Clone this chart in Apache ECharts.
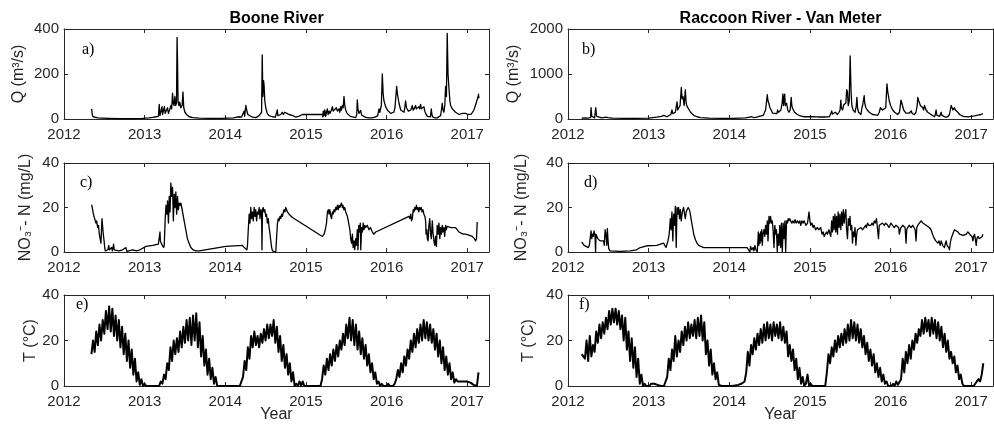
<!DOCTYPE html>
<html>
<head>
<meta charset="utf-8">
<script src="https://cdn.jsdelivr.net/npm/echarts@6/dist/echarts.min.js"></script>
<style>
html, body { margin: 0; padding: 0; background: #fff; }
#chart { width: 994px; height: 429px; }
</style>
</head>
<body>
<div id="chart"></div>
<script>
// Year tick labels shared by all panels
const yearTicks = [2012, 2013, 2014, 2015, 2016, 2017];

// Boone River discharge, m3/s  [decimal year, Q]
const qBoone = [
[2012.343,45],[2012.35,20],[2012.36,10],[2012.38,6],[2012.42,5],[2012.47,4],[2012.479,9],[2012.49,4],[2012.55,3],[2012.7,2],[2012.85,2],[2012.974,3],[2013.05,5],[2013.1,7],[2013.14,10],[2013.17,12],[2013.181,65],[2013.19,15],[2013.205,12],[2013.215,55],[2013.222,20],[2013.235,18],[2013.245,55],[2013.255,25],[2013.27,30],[2013.284,50],[2013.295,25],[2013.31,40],[2013.325,60],[2013.335,45],[2013.346,115],[2013.355,70],[2013.365,60],[2013.375,100],[2013.385,60],[2013.395,70],[2013.402,363],[2013.408,250],[2013.414,80],[2013.425,60],[2013.435,75],[2013.449,50],[2013.465,60],[2013.475,120],[2013.485,50],[2013.5,30],[2013.52,20],[2013.552,10],[2013.6,6],[2013.676,4],[2013.8,3],[2013.95,3],[2014.1,5],[2014.172,10],[2014.2,8],[2014.22,15],[2014.234,35],[2014.24,12],[2014.255,60],[2014.265,40],[2014.28,20],[2014.296,12],[2014.337,8],[2014.38,6],[2014.42,15],[2014.45,30],[2014.458,285],[2014.466,100],[2014.475,170],[2014.481,150],[2014.49,80],[2014.502,50],[2014.52,25],[2014.543,15],[2014.585,10],[2014.62,8],[2014.645,40],[2014.652,15],[2014.67,10],[2014.688,20],[2014.705,30],[2014.72,20],[2014.735,30],[2014.75,35],[2014.765,25],[2014.79,20],[2014.812,25],[2014.84,15],[2014.874,8],[2014.91,12],[2014.956,20],[2015.204,20],[2015.21,10],[2015.215,35],[2015.225,15],[2015.235,40],[2015.245,12],[2015.255,30],[2015.266,45],[2015.275,20],[2015.287,35],[2015.3,25],[2015.315,40],[2015.328,55],[2015.338,35],[2015.348,40],[2015.36,30],[2015.377,50],[2015.39,35],[2015.41,45],[2015.42,30],[2015.431,55],[2015.44,40],[2015.452,60],[2015.462,50],[2015.472,100],[2015.482,60],[2015.493,40],[2015.51,25],[2015.526,18],[2015.55,12],[2015.576,9],[2015.6,7],[2015.617,6],[2015.63,20],[2015.637,85],[2015.645,45],[2015.658,25],[2015.67,30],[2015.679,38],[2015.69,18],[2015.699,12],[2015.741,7],[2015.78,5],[2015.823,5],[2015.865,9],[2015.89,15],[2015.906,45],[2015.916,30],[2015.935,60],[2015.947,200],[2015.958,110],[2015.968,80],[2015.988,55],[2016.01,40],[2016.03,32],[2016.05,25],[2016.071,20],[2016.09,30],[2016.104,50],[2016.125,145],[2016.135,110],[2016.154,70],[2016.175,40],[2016.195,35],[2016.216,30],[2016.226,50],[2016.236,80],[2016.247,50],[2016.257,45],[2016.27,35],[2016.286,30],[2016.3,40],[2016.319,60],[2016.33,40],[2016.339,35],[2016.35,50],[2016.36,60],[2016.37,45],[2016.381,40],[2016.39,50],[2016.401,55],[2016.41,45],[2016.422,65],[2016.432,45],[2016.443,40],[2016.453,50],[2016.463,55],[2016.474,35],[2016.484,25],[2016.505,12],[2016.525,8],[2016.545,10],[2016.554,45],[2016.562,20],[2016.575,8],[2016.6,5],[2016.628,5],[2016.65,8],[2016.67,15],[2016.68,40],[2016.69,70],[2016.7,40],[2016.711,30],[2016.722,60],[2016.732,145],[2016.742,100],[2016.752,380],[2016.762,200],[2016.773,140],[2016.785,80],[2016.794,60],[2016.815,45],[2016.835,40],[2016.855,30],[2016.876,25],[2016.9,20],[2016.917,20],[2016.94,25],[2016.959,25],[2016.98,25],[2017.0,25],[2017.01,20],[2017.029,15],[2017.05,22],[2017.083,40],[2017.11,70],[2017.135,100],[2017.14,110],[2017.145,92]
];

// Raccoon River at Van Meter discharge, m3/s
const qRaccoon = [
[2012.17,20],[2012.2,25],[2012.25,20],[2012.28,30],[2012.286,250],[2012.295,60],[2012.31,30],[2012.33,25],[2012.344,250],[2012.355,60],[2012.369,30],[2012.42,25],[2012.47,40],[2012.481,60],[2012.495,30],[2012.55,20],[2012.7,15],[2012.85,15],[2013.0,20],[2013.1,40],[2013.16,60],[2013.186,80],[2013.2,60],[2013.227,50],[2013.25,60],[2013.275,100],[2013.289,200],[2013.3,120],[2013.32,150],[2013.331,150],[2013.352,380],[2013.36,200],[2013.372,200],[2013.39,300],[2013.405,700],[2013.415,450],[2013.426,500],[2013.44,300],[2013.455,650],[2013.465,350],[2013.476,280],[2013.49,300],[2013.497,250],[2013.52,150],[2013.559,80],[2013.6,50],[2013.642,30],[2013.75,20],[2013.9,15],[2014.05,15],[2014.2,25],[2014.25,40],[2014.264,80],[2014.275,50],[2014.29,70],[2014.305,30],[2014.34,40],[2014.37,60],[2014.388,50],[2014.42,80],[2014.45,200],[2014.471,540],[2014.48,400],[2014.49,350],[2014.504,250],[2014.52,200],[2014.537,130],[2014.56,100],[2014.59,120],[2014.599,200],[2014.61,150],[2014.625,120],[2014.64,200],[2014.655,350],[2014.665,560],[2014.673,300],[2014.68,450],[2014.687,550],[2014.695,300],[2014.711,350],[2014.725,200],[2014.74,150],[2014.755,200],[2014.768,480],[2014.775,300],[2014.782,250],[2014.795,200],[2014.81,150],[2014.844,100],[2014.88,70],[2014.927,50],[2015.0,50],[2015.1,45],[2015.2,45],[2015.24,50],[2015.259,120],[2015.27,180],[2015.28,110],[2015.3,90],[2015.315,150],[2015.33,120],[2015.342,100],[2015.36,150],[2015.374,200],[2015.383,420],[2015.39,250],[2015.404,200],[2015.42,320],[2015.435,300],[2015.445,350],[2015.456,650],[2015.466,600],[2015.475,300],[2015.487,400],[2015.499,1400],[2015.51,600],[2015.52,300],[2015.535,200],[2015.549,180],[2015.56,150],[2015.575,300],[2015.582,480],[2015.59,250],[2015.603,150],[2015.62,120],[2015.632,100],[2015.645,250],[2015.653,300],[2015.662,400],[2015.673,520],[2015.68,350],[2015.694,250],[2015.71,200],[2015.736,150],[2015.76,120],[2015.777,100],[2015.81,90],[2015.839,80],[2015.86,150],[2015.874,250],[2015.881,250],[2015.9,200],[2015.922,180],[2015.94,250],[2015.955,780],[2015.965,600],[2015.984,400],[2016.0,300],[2016.026,200],[2016.05,150],[2016.088,100],[2016.11,150],[2016.129,420],[2016.14,350],[2016.162,200],[2016.19,130],[2016.212,100],[2016.235,130],[2016.254,180],[2016.27,120],[2016.295,100],[2016.315,150],[2016.33,300],[2016.337,480],[2016.35,400],[2016.37,300],[2016.385,280],[2016.399,250],[2016.41,200],[2016.42,300],[2016.44,200],[2016.461,150],[2016.48,120],[2016.502,100],[2016.52,70],[2016.544,50],[2016.555,100],[2016.564,200],[2016.575,80],[2016.585,50],[2016.61,60],[2016.627,150],[2016.637,80],[2016.647,50],[2016.68,40],[2016.709,50],[2016.73,100],[2016.751,300],[2016.762,250],[2016.772,200],[2016.782,220],[2016.793,250],[2016.803,200],[2016.813,200],[2016.834,150],[2016.855,100],[2016.876,80],[2016.9,60],[2016.917,50],[2016.96,45],[2017.0,60],[2017.04,70],[2017.083,85],[2017.12,100],[2017.145,120]
];

// Boone River nitrate-N, mg/L
const nBoone = [
[2012.343,21.3],[2012.355,19],[2012.365,17],[2012.376,15.5],[2012.385,16],[2012.396,13],[2012.405,14],[2012.417,11],[2012.428,12],[2012.438,8],[2012.448,6],[2012.458,4],[2012.465,10],[2012.471,15],[2012.478,12],[2012.487,8],[2012.497,5],[2012.505,2],[2012.512,0.5],[2012.528,0.2],[2012.545,1],[2012.555,3],[2012.562,1],[2012.575,0.3],[2012.59,2],[2012.6,0.5],[2012.615,3.5],[2012.623,1],[2012.644,0.2],[2012.68,0.5],[2012.727,1],[2012.75,0.5],[2012.768,2],[2012.78,0.3],[2012.8,0.5],[2012.851,1],[2012.9,0.5],[2012.933,0.8],[2013.016,2.5],[2013.1,3],[2013.17,3.5],[2013.181,3.5],[2013.19,9],[2013.195,5],[2013.205,4],[2013.22,3],[2013.235,2],[2013.243,3],[2013.255,15],[2013.265,21],[2013.275,17],[2013.284,23],[2013.295,13],[2013.305,25],[2013.315,18],[2013.325,31],[2013.335,25],[2013.346,29],[2013.356,14],[2013.367,26],[2013.377,20],[2013.387,27],[2013.397,17],[2013.408,25],[2013.418,19],[2013.429,22],[2013.44,21],[2013.449,22],[2013.46,20],[2013.47,18],[2013.49,14],[2013.51,10],[2013.53,6],[2013.55,4],[2013.573,2],[2013.6,1],[2013.635,0.5],[2013.676,0.5],[2014.007,2.5],[2014.213,3],[2014.235,2],[2014.255,1.5],[2014.268,1],[2014.275,3],[2014.285,10],[2014.296,17],[2014.306,13],[2014.316,20],[2014.326,15],[2014.337,18],[2014.347,14],[2014.358,20],[2014.368,16],[2014.378,19],[2014.388,14],[2014.399,18],[2014.41,17],[2014.42,20],[2014.43,15],[2014.44,19],[2014.45,18],[2014.455,1],[2014.461,19],[2014.47,20],[2014.481,18],[2014.49,19],[2014.502,16],[2014.51,17],[2014.523,13],[2014.533,15],[2014.543,11],[2014.555,8],[2014.564,5],[2014.575,2],[2014.585,0.5],[2014.6,0],[2014.626,0],[2014.64,0.5],[2014.647,13],[2014.657,15],[2014.667,14],[2014.678,16],[2014.688,15],[2014.698,17],[2014.709,16],[2014.72,18],[2014.729,19],[2014.74,18],[2014.75,20],[2014.76,19],[2014.77,18],[2014.78,18],[2014.791,17],[2014.8,17],[2014.832,15.5],[2015.204,7],[2015.215,6.5],[2015.225,8],[2015.24,10],[2015.255,13],[2015.266,18],[2015.277,19],[2015.287,17],[2015.297,19],[2015.308,16],[2015.318,15],[2015.328,18],[2015.338,17],[2015.348,19],[2015.359,18],[2015.369,20],[2015.38,19],[2015.39,21],[2015.4,19],[2015.41,21],[2015.42,20],[2015.43,21],[2015.44,22],[2015.452,20],[2015.46,21],[2015.47,19],[2015.48,20],[2015.493,18],[2015.505,17],[2015.514,16],[2015.525,14],[2015.535,12],[2015.545,10],[2015.555,6],[2015.565,4],[2015.576,8],[2015.585,2],[2015.596,5],[2015.605,1],[2015.617,6],[2015.627,3],[2015.637,10],[2015.645,1],[2015.655,12],[2015.665,9],[2015.674,13],[2015.68,1],[2015.69,11],[2015.7,9],[2015.71,13],[2015.72,10],[2015.73,12],[2015.741,11],[2015.76,12],[2015.782,10],[2015.8,11],[2015.823,9],[2015.84,8],[2015.865,9],[2016.278,16],[2016.29,15],[2016.3,17],[2016.31,14],[2016.319,15],[2016.33,19],[2016.339,18],[2016.35,20],[2016.36,19],[2016.37,21],[2016.381,19],[2016.39,20],[2016.4,18],[2016.41,20],[2016.422,19],[2016.43,20],[2016.44,18],[2016.45,19],[2016.463,17],[2016.475,16],[2016.484,14],[2016.49,8],[2016.5,10],[2016.505,6],[2016.515,5],[2016.525,12],[2016.535,15],[2016.546,8],[2016.555,6],[2016.567,14],[2016.575,9],[2016.587,5],[2016.598,3],[2016.608,7],[2016.618,2.5],[2016.628,12],[2016.64,8],[2016.649,13],[2016.66,6],[2016.67,11],[2016.68,8],[2016.69,12],[2016.7,9],[2016.711,11],[2016.72,7],[2016.732,12],[2016.74,10],[2016.752,11.5],[2016.773,11.5],[2016.8,11],[2016.855,11],[2016.897,9],[2016.95,8],[2016.979,8],[2017.03,7.5],[2017.062,7],[2017.09,6],[2017.103,5],[2017.115,6],[2017.124,13.5]
];

// Raccoon River nitrate-N, mg/L
const nRaccoon = [
[2012.17,4.5],[2012.19,4],[2012.2,3],[2012.211,3.5],[2012.225,2.5],[2012.24,3],[2012.253,2],[2012.265,3],[2012.275,3],[2012.286,9.5],[2012.295,6],[2012.303,8],[2012.313,7],[2012.323,9.5],[2012.335,7],[2012.342,0],[2012.347,8],[2012.357,7.5],[2012.37,6],[2012.385,6.5],[2012.398,5],[2012.42,4.5],[2012.44,5],[2012.45,3],[2012.46,10],[2012.47,8],[2012.481,3],[2012.488,10.5],[2012.495,6],[2012.505,1.5],[2012.52,0.5],[2012.543,0.3],[2012.65,0.3],[2012.771,0.5],[2012.85,1],[2012.896,2],[2012.978,2.8],[2013.1,3],[2013.186,4],[2013.2,3],[2013.215,2],[2013.227,2.5],[2013.24,5],[2013.255,8],[2013.269,15],[2013.279,10],[2013.289,18],[2013.3,5],[2013.31,17],[2013.32,12],[2013.331,20.5],[2013.342,2],[2013.352,20],[2013.362,17],[2013.372,20],[2013.383,15],[2013.393,19],[2013.404,14],[2013.414,17],[2013.424,19],[2013.434,20],[2013.445,17],[2013.455,15],[2013.466,18],[2013.476,19],[2013.49,20],[2013.505,19],[2013.517,17],[2013.53,14],[2013.545,11],[2013.559,8],[2013.58,5.5],[2013.6,4],[2013.62,3],[2013.642,2.5],[2013.683,2],[2013.75,2],[2013.808,2],[2014.015,2],[2014.15,2],[2014.222,2],[2014.24,1.5],[2014.255,0],[2014.264,2.5],[2014.28,1],[2014.295,2],[2014.305,0.5],[2014.318,3],[2014.33,1],[2014.347,0],[2014.355,5],[2014.36,9],[2014.367,3],[2014.375,8],[2014.382,4],[2014.388,9],[2014.395,5],[2014.402,10],[2014.409,3],[2014.418,8],[2014.43,10],[2014.44,7],[2014.45,12],[2014.46,8],[2014.471,14],[2014.48,5],[2014.492,16],[2014.5,13],[2014.512,16],[2014.522,13],[2014.533,14],[2014.543,10],[2014.554,2],[2014.565,12],[2014.575,8],[2014.585,10],[2014.595,0],[2014.605,8],[2014.616,3],[2014.626,12],[2014.637,2],[2014.647,13],[2014.658,0],[2014.668,13],[2014.678,6],[2014.69,14],[2014.699,0],[2014.71,14],[2014.72,13],[2014.73,15],[2014.74,14],[2014.75,15],[2014.761,14],[2014.775,13],[2014.79,14],[2014.803,13],[2014.815,14.5],[2014.83,13],[2014.844,14],[2014.86,13],[2014.875,14],[2014.886,12],[2014.9,14],[2014.915,13],[2014.927,14],[2014.95,12],[2014.97,13],[2014.989,18],[2015.0,14],[2015.01,12],[2015.025,13],[2015.04,11],[2015.051,12],[2015.07,10],[2015.093,11],[2015.11,10],[2015.134,11],[2015.15,8],[2015.165,9],[2015.176,7],[2015.19,8],[2015.205,9],[2015.217,8],[2015.235,10],[2015.25,8],[2015.259,7],[2015.269,14],[2015.279,9],[2015.29,16],[2015.3,10],[2015.31,17],[2015.321,9],[2015.33,16],[2015.342,8],[2015.35,18],[2015.362,11],[2015.372,17],[2015.383,10],[2015.393,18],[2015.404,12],[2015.414,19],[2015.425,13],[2015.435,17],[2015.445,19],[2015.455,10],[2015.466,6],[2015.476,15],[2015.487,12],[2015.497,16],[2015.507,10],[2015.518,12],[2015.528,4],[2015.538,9],[2015.549,7],[2015.559,11],[2015.57,3],[2015.58,8],[2015.59,10],[2015.61,10],[2015.632,11],[2015.65,10],[2015.673,11],[2015.69,12],[2015.7,11],[2015.715,13],[2015.73,12],[2015.756,12],[2015.77,13],[2015.785,12],[2015.798,14],[2015.81,13],[2015.825,15],[2015.839,15],[2015.85,6],[2015.86,12],[2015.881,12],[2015.9,13],[2015.922,12],[2015.94,13],[2015.964,12],[2015.98,11],[2016.005,13],[2016.025,12],[2016.046,11],[2016.065,12],[2016.088,12],[2016.1,11],[2016.109,8],[2016.12,10],[2016.129,11],[2016.15,12],[2016.171,12],[2016.18,11],[2016.192,4],[2016.2,10],[2016.212,11],[2016.23,12],[2016.254,11],[2016.275,12],[2016.295,12],[2016.305,10],[2016.316,5],[2016.325,11],[2016.337,12],[2016.357,13],[2016.378,14],[2016.4,13],[2016.42,13],[2016.44,12],[2016.461,12],[2016.48,11],[2016.502,10],[2016.52,8],[2016.544,6],[2016.56,5],[2016.585,4],[2016.6,5],[2016.615,3],[2016.627,5],[2016.645,3],[2016.668,2],[2016.68,4],[2016.689,5],[2016.7,3],[2016.71,3],[2016.72,2],[2016.73,1],[2016.74,4],[2016.751,6],[2016.77,8],[2016.793,10],[2016.81,9.5],[2016.834,9],[2016.855,8],[2016.876,8],[2016.9,7.5],[2016.917,8],[2016.94,8],[2016.959,9],[2016.98,8],[2017.0,8],[2017.01,7],[2017.021,5],[2017.03,7],[2017.041,8],[2017.05,6],[2017.062,3],[2017.07,6],[2017.083,7],[2017.1,6],[2017.124,6],[2017.135,7],[2017.145,8]
];

// Water temperature, deg C, sampled every 0.02 yr from the start year
const tStep = 0.02;
const tBooneStart = 2012.34;
const tBoone = [
14,20,15,24,18,27,20,29,23,33,
25,35,24,34,22,31,20,29,17,26,
14,23,11,20,8,16,5,12,2,6,
0.5,3,0,1,0,0,0,0,0,0,
0,0,0,2,1,5,3,10,7,17,
11,20,14,21,15,24,17,26,19,29,
20,30,18,31,20,32,17,28,13,22,
9,16,5,12,3,8,1,4,0,0,
0,0,0,0,0,0,0,0,0,0,
0,0,0,0,4,11,7,17,12,22,
17,24,18,22,17,23,19,25,20,27,
21,27,22,29,19,26,15,22,11,18,
8,14,5,10,2,6,0,1,0,2,
0,2,0,0,0,0,0,0,0,0,
0,0,0,3,9,5,12,7,14,9,
16,11,18,13,20,16,23,18,27,21,
30,20,29,18,27,16,24,14,21,12,
18,9,14,6,10,3,6,1,2,0,
1,0,0.5,0,1,0,0.5,0,1,3,
7,4,10,6,13,9,16,12,20,15,
23,17,25,19,27,20,29,21,28,20,
27,19,25,16,23,13,20,10,17,7,
13,5,10,3,6,1.5,3,2,2,2,
2,2,2,2,2,1.5,1,0.5,0.3,0,
6
];
const tRaccoonStart = 2012.17;
const tRaccoon = [
14,14,12,20,11,22,13,18,15,24,
19,27,21,28,23,30,25,33,27,34,
28,34,27,33,25,31,20,30,16,24,
11,21,8,17,4,12,1,5,0,1,
0,0.5,0,1,0.5,1,0.5,0.5,0,0,
0,0,0,4,12,7,16,11,22,13,
20,15,24,18,26,20,28,21,27,22,
29,21,30,22,31,20,28,14,20,9,
16,5,10,3,6,0.5,1,0,0,0,
0,0,0,0,0,0.2,0.3,0.5,0.7,1,
1,2,6,15,9,18,14,21,16,23,
18,25,19,27,20,28,21,27,20,28,
22,27,21,28,20,26,19,24,13,18,
11,16,7,12,3,8,1,4,0,1,
5,0,1,0,0,0,0,0,0,0,
0,0,6,14,10,17,13,20,15,22,
17,23,18,25,19,27,20,29,21,28,
20,27,19,25,17,22,14,19,11,16,
9,14,6,10,4,8,2,5,1,2,
0,0,0,1,0,2,0.5,1,3,12,
6,15,10,18,12,20,16,23,19,25,
22,29,23,30,24,29,22,30,23,29,
21,28,20,26,17,23,15,20,12,15,
10,13,6,9,3,5,1,0,0,0,
0,0,0.5,0,1,2,3,2,5,10
];

// Column titles, panel letters and axis names
const columnTitles = ['Boone River', 'Raccoon River - Van Meter'];
const panelLetters = ['a)', 'b)', 'c)', 'd)', 'e)', 'f)'];
const yNames = ['Q (m³/s)', 'NO₃⁻- N (mg/L)', 'T (°C)'];
const yMax = [[400, 2000], [40, 40], [40, 40]];
const yStep = [[200, 1000], [20, 20], [20, 20]];

const toPairs = (start, vals) => vals.map((v, i) => [+(start + i * tStep).toFixed(3), v]);
const seriesData = [
  [qBoone, qRaccoon],
  [nBoone, nRaccoon],
  [toPairs(tBooneStart, tBoone), toPairs(tRaccoonStart, tRaccoon)]
];

const SANS = "'Liberation Sans', Arial, Helvetica, sans-serif";
const SERIF = "'Liberation Serif', 'Times New Roman', serif";
const INK = '#262626';

// Layout of the 3x2 panel grid
const colLeft = [64, 568];
const colWidth = 425;
const rowTop = [29, 163, 295];
const rowHeight = [90, 89, 91];
const nameGaps = [[37, 46], [30, 38], [23, 31]];
const letterPos = [[[82, 50], [582, 50]], [[80, 183], [584, 183]], [[76, 305], [579, 305]]];
const lineWidths = [1.3, 1.3, 2.0];

const grids = [], xAxes = [], yAxes = [], series = [], graphics = [];
let g = 0;
for (let r = 0; r < 3; r++) {
  for (let c = 0; c < 2; c++) {
    grids.push({ left: colLeft[c], top: rowTop[r], width: colWidth, height: rowHeight[r], containLabel: false });
    const xBase = {
      gridIndex: g, type: 'value', min: yearTicks[0], max: 2017.27, interval: 1,
      axisLine: { show: true, onZero: false, lineStyle: { color: INK, width: 1 } },
      axisTick: { show: true, inside: true, length: 4, lineStyle: { color: INK, width: 1 } },
      splitLine: { show: false }
    };
    xAxes.push(Object.assign({}, xBase, {
      position: 'bottom',
      axisLabel: {
        show: true, margin: 8, fontSize: 15, color: INK, fontFamily: SANS, showMaxLabel: false,
        formatter: v => (yearTicks.indexOf(v) >= 0 ? String(v) : '')
      }
    }));
    xAxes.push(Object.assign({}, xBase, { position: 'top', axisLabel: { show: false } }));
    const yBase = {
      gridIndex: g, type: 'value', min: 0, max: yMax[r][c], interval: yStep[r][c],
      axisLine: { show: true, onZero: false, lineStyle: { color: INK, width: 1 } },
      axisTick: { show: true, inside: true, length: 4, lineStyle: { color: INK, width: 1 } },
      splitLine: { show: false }
    };
    yAxes.push(Object.assign({}, yBase, {
      position: 'left',
      axisLabel: { show: true, margin: 5, fontSize: 15, color: INK, fontFamily: SANS, formatter: v => String(v) },
      name: yNames[r], nameLocation: 'middle', nameGap: nameGaps[r][c],
      nameTextStyle: { fontSize: 16, color: INK, fontFamily: SANS }
    }));
    yAxes.push(Object.assign({}, yBase, { position: 'right', axisLabel: { show: false } }));
    series.push({
      type: 'line', xAxisIndex: 2 * g, yAxisIndex: 2 * g,
      data: seriesData[r][c], showSymbol: false, symbol: 'none',
      lineStyle: { color: '#000', width: lineWidths[r], join: 'round' },
      silent: true, clip: true
    });
    graphics.push({
      type: 'text', x: letterPos[r][c][0], y: letterPos[r][c][1],
      style: { text: panelLetters[g], font: '16px ' + SERIF, fill: '#000', textAlign: 'left', textVerticalAlign: 'middle' }
    });
    g++;
  }
}
for (let c = 0; c < 2; c++) {
  const cx = colLeft[c] + colWidth / 2;
  graphics.push({
    type: 'text', x: cx, y: 18.5,
    style: { text: columnTitles[c], font: 'bold 16px ' + SANS, fill: '#000', textAlign: 'center', textVerticalAlign: 'middle' }
  });
  graphics.push({
    type: 'text', x: cx, y: 415,
    style: { text: 'Year', font: '16px ' + SANS, fill: INK, textAlign: 'center', textVerticalAlign: 'middle' }
  });
}

const chart = echarts.init(document.getElementById('chart'), null, { renderer: 'canvas' });
chart.setOption({
  animation: false,
  backgroundColor: '#fff',
  grid: grids,
  xAxis: xAxes,
  yAxis: yAxes,
  series: series,
  graphic: graphics
});
</script>
</body>
</html>
